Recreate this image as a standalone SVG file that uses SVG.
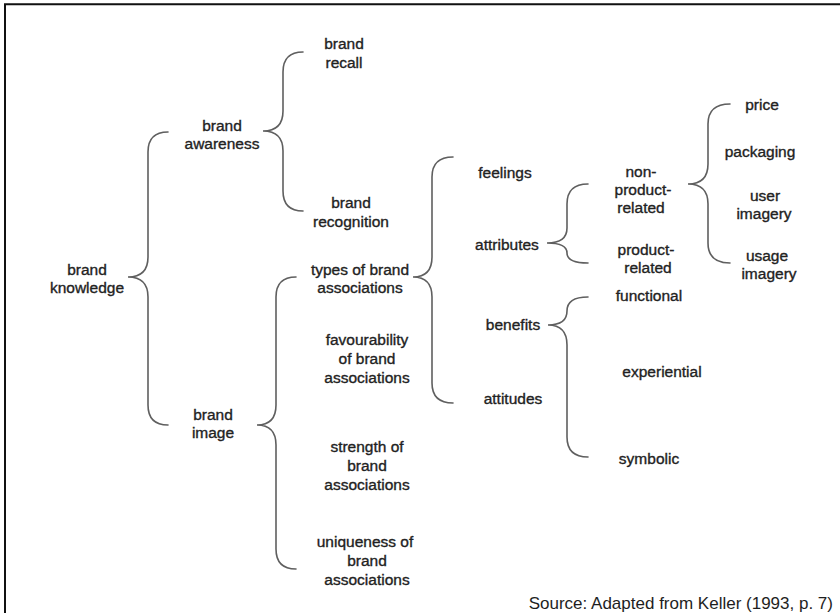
<svg xmlns="http://www.w3.org/2000/svg" width="840" height="613" viewBox="0 0 840 613">
  <style>
    .lbl { font-family: "Liberation Sans", Arial, sans-serif; font-size: 15.5px; fill: #222; stroke: #222; stroke-width: 0.35; text-anchor: middle; }
    .src { font-family: "Liberation Sans", Arial, sans-serif; font-size: 17px; fill: #1e1e1e; text-anchor: end; }
    .brace { fill: none; stroke: #5f5f5f; stroke-width: 1.6; stroke-linecap: round; }
    .frame { fill: none; stroke: #111; stroke-width: 2; }
  </style>
  <rect width="840" height="613" fill="#fff"/>
  <path class="frame" d="M5,613 V4.3 H840"/>

  <!-- curly braces joining each term to its sub-terms -->
  <g id="connectors">
    <path class="brace" d="M168,132 Q148,132 148,152 V257 Q148,277 128,277 Q148,277 148,297 V405 Q148,425 168,425"/>
    <path class="brace" d="M303,52 Q283,52 283,72 V111 Q283,131 263,131 Q283,131 283,151 V191 Q283,211 303,211"/>
    <path class="brace" d="M296,277 Q276,277 276,297 V405 Q276,425 257,425 Q276,425 276,445 V549 Q276,569 296,569"/>
    <path class="brace" d="M453,157 Q432,157 432,177 V257 Q432,277 413,277 Q432,277 432,297 V383 Q432,403 453,403"/>
    <path class="brace" d="M588,184 Q567,184 567,204 V228 Q567,243 547,243 Q567,243 567,253 Q567,263 588,263"/>
    <path class="brace" d="M730,104 Q708,104 708,124 V164 Q708,184 688,184 Q708,184 708,204 V243 Q708,263 730,263"/>
    <path class="brace" d="M588,297 Q567,297 567,311 Q567,325 548,325 Q567,325 567,345 V437 Q567,457 588,457"/>
  </g>

  <g id="brand-knowledge"><text class="lbl" x="87" y="275">brand</text><text class="lbl" x="87" y="293">knowledge</text></g>
  <g id="brand-awareness"><text class="lbl" x="222" y="131">brand</text><text class="lbl" x="222" y="149">awareness</text></g>
  <g id="brand-image"><text class="lbl" x="213" y="420">brand</text><text class="lbl" x="213" y="438">image</text></g>
  <g id="brand-recall"><text class="lbl" x="344" y="49">brand</text><text class="lbl" x="344" y="68">recall</text></g>
  <g id="brand-recognition"><text class="lbl" x="351" y="208">brand</text><text class="lbl" x="351" y="227">recognition</text></g>
  <g id="types"><text class="lbl" x="360" y="275">types of brand</text><text class="lbl" x="360" y="293">associations</text></g>
  <g id="favourability"><text class="lbl" x="367" y="345">favourability</text><text class="lbl" x="367" y="364">of brand</text><text class="lbl" x="367" y="383">associations</text></g>
  <g id="strength"><text class="lbl" x="367" y="452">strength of</text><text class="lbl" x="367" y="471">brand</text><text class="lbl" x="367" y="490">associations</text></g>
  <g id="uniqueness"><text class="lbl" x="365" y="547">uniqueness of</text><text class="lbl" x="367" y="566">brand</text><text class="lbl" x="367" y="585">associations</text></g>
  <g id="feelings"><text class="lbl" x="505" y="178">feelings</text></g>
  <g id="attributes"><text class="lbl" x="507" y="250">attributes</text></g>
  <g id="benefits"><text class="lbl" x="513" y="330">benefits</text></g>
  <g id="attitudes"><text class="lbl" x="513" y="404">attitudes</text></g>
  <g id="non-product-related"><text class="lbl" x="641" y="177">non-</text><text class="lbl" x="643" y="195">product-</text><text class="lbl" x="641" y="213">related</text></g>
  <g id="product-related"><text class="lbl" x="646" y="255">product-</text><text class="lbl" x="648" y="273">related</text></g>
  <g id="functional"><text class="lbl" x="649" y="301">functional</text></g>
  <g id="experiential"><text class="lbl" x="662" y="377">experiential</text></g>
  <g id="symbolic"><text class="lbl" x="649" y="464">symbolic</text></g>
  <g id="price"><text class="lbl" x="762" y="110">price</text></g>
  <g id="packaging"><text class="lbl" x="760" y="157">packaging</text></g>
  <g id="user-imagery"><text class="lbl" x="765" y="201">user</text><text class="lbl" x="764" y="219">imagery</text></g>
  <g id="usage-imagery"><text class="lbl" x="767" y="261">usage</text><text class="lbl" x="769" y="279">imagery</text></g>

  <text class="src" x="833" y="609">Source: Adapted from Keller (1993, p. 7)</text>
</svg>
